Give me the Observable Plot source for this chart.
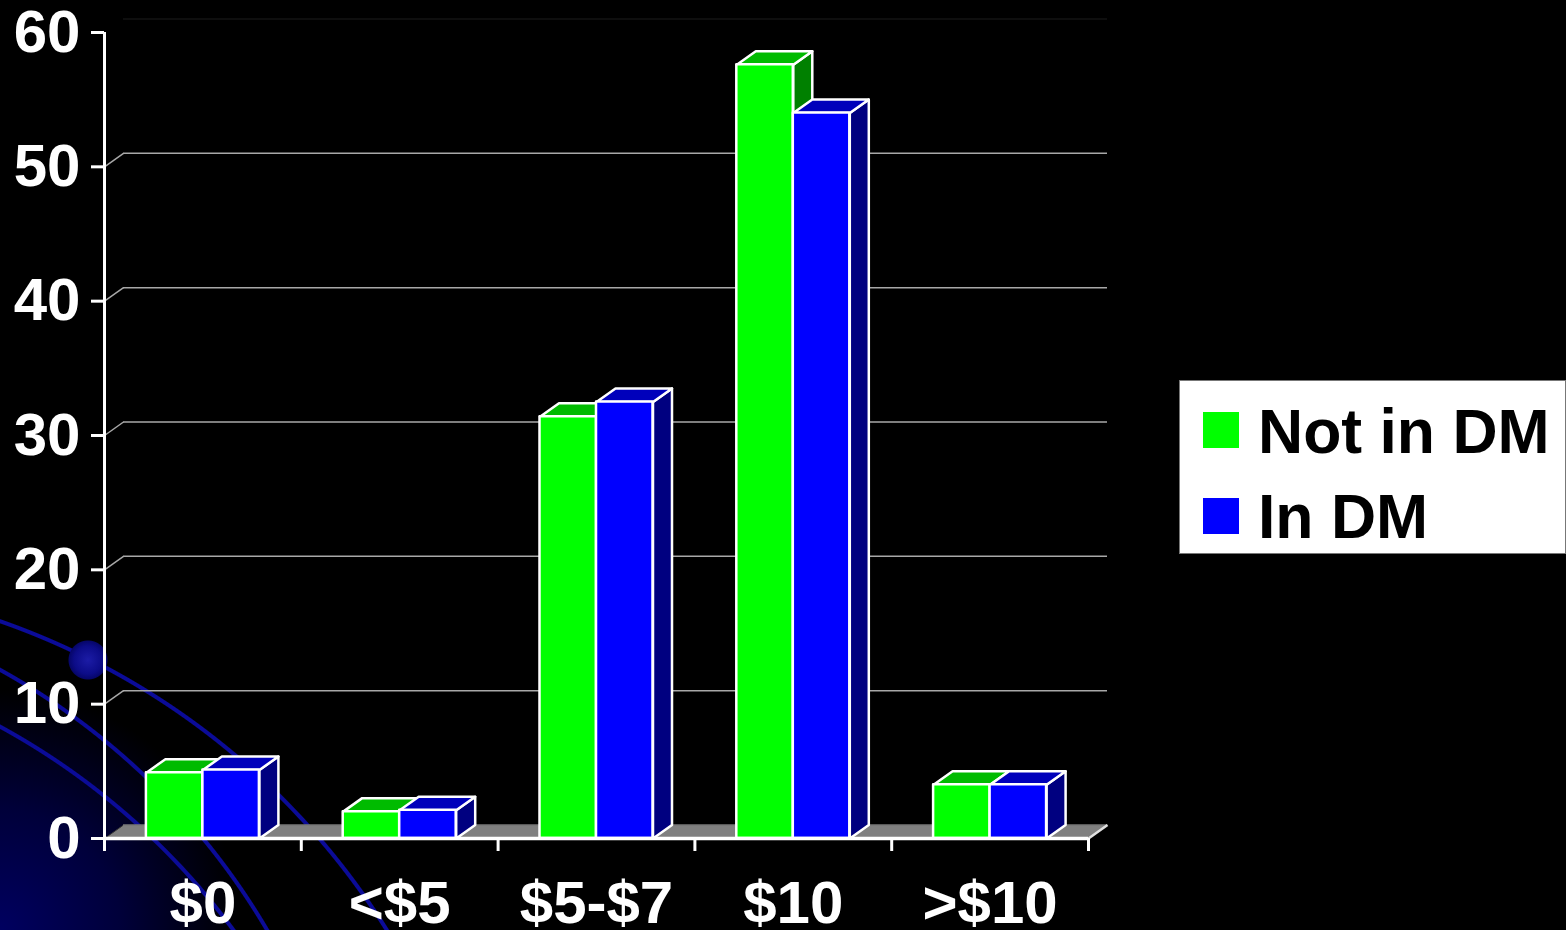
<!DOCTYPE html>
<html>
<head>
<meta charset="utf-8">
<script src="https://cdn.jsdelivr.net/npm/d3@7"></script>
<script src="https://cdn.jsdelivr.net/npm/@observablehq/plot@0.6"></script>
<style>
html, body { margin: 0; padding: 0; background: #000; }
#wrap {
  position: relative; width: 1566px; height: 930px; overflow: hidden;
  background:
    radial-gradient(circle 20px at 88px 660px, #1c1ca6 0, #0c0c88 14px, #06066a 19px, rgba(0,0,0,0) 20px),
    radial-gradient(circle at -246px 1326px, rgba(0,0,0,0) 744px, #0b0b98 745px, #0b0b98 748px, rgba(0,0,0,0) 749px),
    radial-gradient(circle at -342px 1288px, rgba(0,0,0,0) 704px, #0b0b98 705px, #0b0b98 708px, rgba(0,0,0,0) 709px),
    radial-gradient(circle at -345px 1358px, rgba(0,0,0,0) 717px, #0b0b98 718px, #0b0b98 721px, rgba(0,0,0,0) 722px),
    radial-gradient(circle 240px at 0 930px, #000060 0, #00003a 120px, #000 240px),
    #000;
}
#chart { position: absolute; left: 0; top: 0; }
#legend {
  position: absolute; left: 1179px; top: 380px; width: 387px; height: 174px;
  background: #fff; box-sizing: border-box; border: 1px solid #777;
  font-family: "Liberation Sans", Arial, sans-serif; font-weight: bold; font-size: 62.5px; color: #000;
}
#legend .sw { position: absolute; left: 23px; width: 36px; height: 36px; }
#legend .tx { position: absolute; left: 78px; line-height: 61px; white-space: nowrap; }
</style>
</head>
<body>
<div id="wrap">
  <div id="chart"></div>
  <div id="legend"></div>
</div>
<script>
// ---- data ----
const categories = ["$0", "<$5", "$5-$7", "$10", ">$10"];
const seriesNames = ["Not in DM", "In DM"];
const notInDM = [4.9, 2.0, 31.4, 57.6, 4.0];
const inDM = [5.1, 2.1, 32.5, 54.0, 4.0];
const yTicks = [0, 10, 20, 30, 40, 50, 60];
const gridValues = [10, 20, 30, 40, 50];

// ---- style / layout ----
const W = 1566, H = 930;
const mLeft = 104, mRight = 478, mTop = 32, mBottom = 92;
const pxPerX = (W - mLeft - mRight) / categories.length;
const pxPerY = (H - mTop - mBottom) / 60;
const depthPxX = 19, depthPxY = 13.5;
const DX = depthPxX / pxPerX, DY = depthPxY / pxPerY;
const BW = 56.5 / pxPerX;

const colors = {
  "Not in DM": {front: "#00ff00", top: "#00bb00", side: "#008000"},
  "In DM": {front: "#0000ff", top: "#0000bb", side: "#000080"}
};

function bars(vals, s) {
  return vals.map((v, i) => {
    const x0 = i + 0.5 + (s - 1) * BW;
    return {i, cat: categories[i], v, x0, x1: x0 + BW};
  });
}
function faces(barRows, face) {
  const rows = [];
  barRows.forEach(b => {
    const {x0, x1, v, i} = b;
    const pts = face === "top"
      ? [[x0, v], [x1, v], [x1 + DX, v + DY], [x0 + DX, v + DY], [x0, v]]
      : [[x1, 0], [x1, v], [x1 + DX, v + DY], [x1 + DX, DY], [x1, 0]];
    pts.forEach(([x, y]) => rows.push({id: i, x, y}));
  });
  return rows;
}

const greenBars = bars(notInDM, 0);
const blueBars = bars(inDM, 1);
const floor = [{x: 0, y: 0}, {x: categories.length, y: 0}, {x: categories.length + DX, y: DY}, {x: DX, y: DY}, {x: 0, y: 0}];

function barMarks(barRows, name) {
  const c = colors[name];
  const common = {stroke: "white", strokeWidth: 2.5, strokeLinejoin: "round"};
  return [
    Plot.line(faces(barRows, "side"), {x: "x", y: "y", z: "id", fill: c.side, ...common}),
    Plot.line(faces(barRows, "top"), {x: "x", y: "y", z: "id", fill: c.top, ...common}),
    Plot.rect(barRows, {x1: "x0", x2: "x1", y1: 0, y2: "v", fill: c.front, ...common})
  ];
}

const chart = Plot.plot({
  width: W, height: H,
  marginLeft: mLeft, marginRight: mRight, marginTop: mTop, marginBottom: mBottom,
  x: {type: "linear", domain: [0, categories.length], label: null},
  y: {type: "linear", domain: [0, 60], label: null},
  style: {background: "transparent", color: "white", fontFamily: "'Liberation Sans', Arial, sans-serif", fontWeight: "bold", overflow: "visible"},
  marks: [
    // floor
    Plot.line(floor, {x: "x", y: "y", fill: "#808080", stroke: "#333", strokeWidth: 1}),
    Plot.ruleY([DY], {x1: DX, x2: categories.length + DX, stroke: "#9a9a9a", strokeWidth: 1}),
    Plot.ruleY([60 + DY], {x1: DX, x2: categories.length + DX, stroke: "#1c1c1c", strokeWidth: 1}),
    // gridlines on back wall
    Plot.ruleY(gridValues, {y: d => d + DY, x1: DX, x2: categories.length + DX, stroke: "#a8a8a8", strokeWidth: 1.5}),
    Plot.link(gridValues, {x1: 0, y1: d => d, x2: DX, y2: d => d + DY, stroke: "#a8a8a8", strokeWidth: 1.5}),
    // bars
    ...barMarks(greenBars, "Not in DM"),
    ...barMarks(blueBars, "In DM"),
    // floor right edge
    Plot.link([0], {x1: categories.length, y1: 0, x2: categories.length + DX, y2: DY, stroke: "#e0e0e0", strokeWidth: 2.5}),
    // axes
    Plot.ruleX([0], {y1: 0, y2: 60, stroke: "white", strokeWidth: 3}),
    Plot.ruleY([0], {x1: 0, x2: categories.length, stroke: "white", strokeWidth: 3.5}),
    Plot.axisY({ticks: yTicks, tickSize: 13, tickPadding: 11, strokeWidth: 3, fontSize: 60, fontWeight: "bold", label: null, tickFormat: d => String(d)}),
    Plot.axisX({ticks: d3.range(categories.length + 1), tickSize: 13, strokeWidth: 3, tickFormat: () => "", label: null}),
    Plot.axisX({ticks: categories.map((c, i) => i + 0.5), tickSize: 0, tickPadding: 42, fontSize: 60, fontWeight: "bold", label: null, tickFormat: d => categories[Math.floor(d)]})
  ]
});
document.getElementById("chart").appendChild(chart);

// legend
const legend = document.getElementById("legend");
seriesNames.forEach((name, k) => {
  const sw = document.createElement("div");
  sw.className = "sw";
  sw.style.top = (31 + k * 86) + "px";
  sw.style.background = colors[name].front;
  legend.appendChild(sw);
  const tx = document.createElement("div");
  tx.className = "tx";
  tx.style.top = (20 + k * 85) + "px";
  tx.textContent = name;
  legend.appendChild(tx);
});
</script>
</body>
</html>
